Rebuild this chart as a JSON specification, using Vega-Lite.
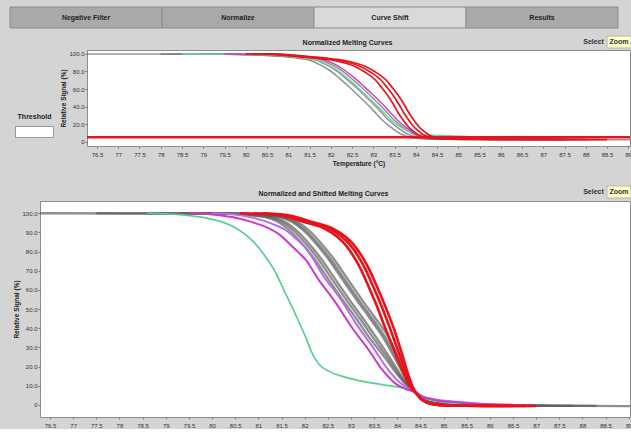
{
"$schema": "https://vega.github.io/schema/vega-lite/v6.json",
"background": "#d4d4d4",
"padding": {"left": 9, "top": 6, "right": 0, "bottom": 0},
"spacing": 4,
"datasets": {
"top": [
{"c":"tga","g":"gray","t":76.265,"v":100},{"c":"tga","g":"gray","t":79.5,"v":99.8},{"c":"tga","g":"gray","t":80.15,"v":99},{"c":"tga","g":"gray","t":80.8,"v":97.3},{"c":"tga","g":"gray","t":81.2,"v":95.3},{"c":"tga","g":"gray","t":81.49,"v":93.1},{"c":"tga","g":"gray","t":81.75,"v":87.5},{"c":"tga","g":"gray","t":81.96,"v":81.7},{"c":"tga","g":"gray","t":82.2,"v":72.5},{"c":"tga","g":"gray","t":82.43,"v":62.6},{"c":"tga","g":"gray","t":82.63,"v":53.5},{"c":"tga","g":"gray","t":82.83,"v":44},{"c":"tga","g":"gray","t":83.02,"v":34.5},{"c":"tga","g":"gray","t":83.21,"v":24.7},{"c":"tga","g":"gray","t":83.41,"v":16.5},{"c":"tga","g":"gray","t":83.61,"v":9.8},{"c":"tga","g":"gray","t":83.8,"v":5.8},{"c":"tga","g":"gray","t":84.0,"v":3.8},{"c":"tga","g":"gray","t":84.3,"v":3.0},{"c":"tga","g":"gray","t":85.0,"v":2.6},{"c":"tga","g":"gray","t":86.0,"v":2.4},{"c":"tga","g":"gray","t":88.0,"v":2.2},{"c":"tga","g":"gray","t":89.04,"v":2.2},
{"c":"tgb","g":"gray","t":78.0,"v":100},{"c":"tgb","g":"gray","t":79.6,"v":99.8},{"c":"tgb","g":"gray","t":80.3,"v":99},{"c":"tgb","g":"gray","t":80.95,"v":97.3},{"c":"tgb","g":"gray","t":81.35,"v":95.3},{"c":"tgb","g":"gray","t":81.64,"v":93.1},{"c":"tgb","g":"gray","t":81.9,"v":87.5},{"c":"tgb","g":"gray","t":82.11,"v":81.7},{"c":"tgb","g":"gray","t":82.35,"v":72.5},{"c":"tgb","g":"gray","t":82.58,"v":62.6},{"c":"tgb","g":"gray","t":82.78,"v":53.5},{"c":"tgb","g":"gray","t":82.98,"v":44},{"c":"tgb","g":"gray","t":83.17,"v":34.5},{"c":"tgb","g":"gray","t":83.36,"v":24.7},{"c":"tgb","g":"gray","t":83.56,"v":16.5},{"c":"tgb","g":"gray","t":83.76,"v":9.8},{"c":"tgb","g":"gray","t":83.95,"v":5.8},{"c":"tgb","g":"gray","t":84.15,"v":3.8},{"c":"tgb","g":"gray","t":84.45,"v":3.0},{"c":"tgb","g":"gray","t":85.1,"v":2.6},{"c":"tgb","g":"gray","t":86.5,"v":2.4},{"c":"tgb","g":"gray","t":88.5,"v":2.2},
{"c":"tgc","g":"gray","t":79.0,"v":100},{"c":"tgc","g":"gray","t":79.8,"v":99.8},{"c":"tgc","g":"gray","t":80.43,"v":99},{"c":"tgc","g":"gray","t":81.08,"v":97.3},{"c":"tgc","g":"gray","t":81.48,"v":95.3},{"c":"tgc","g":"gray","t":81.77,"v":93.1},{"c":"tgc","g":"gray","t":82.03,"v":87.5},{"c":"tgc","g":"gray","t":82.24,"v":81.7},{"c":"tgc","g":"gray","t":82.48,"v":72.5},{"c":"tgc","g":"gray","t":82.71,"v":62.6},{"c":"tgc","g":"gray","t":82.91,"v":53.5},{"c":"tgc","g":"gray","t":83.11,"v":44},{"c":"tgc","g":"gray","t":83.3,"v":34.5},{"c":"tgc","g":"gray","t":83.49,"v":24.7},{"c":"tgc","g":"gray","t":83.69,"v":16.5},{"c":"tgc","g":"gray","t":83.89,"v":9.8},{"c":"tgc","g":"gray","t":84.08,"v":5.8},{"c":"tgc","g":"gray","t":84.28,"v":3.8},{"c":"tgc","g":"gray","t":84.58,"v":3.0},{"c":"tgc","g":"gray","t":85.2,"v":2.6},{"c":"tgc","g":"gray","t":87.0,"v":2.4},
{"c":"tgr","g":"green","t":78.5,"v":100},{"c":"tgr","g":"green","t":79.7,"v":99.8},{"c":"tgr","g":"green","t":80.35,"v":99},{"c":"tgr","g":"green","t":81.0,"v":97.3},{"c":"tgr","g":"green","t":81.4,"v":95.3},{"c":"tgr","g":"green","t":81.68,"v":93.1},{"c":"tgr","g":"green","t":81.94,"v":87.5},{"c":"tgr","g":"green","t":82.15,"v":81.7},{"c":"tgr","g":"green","t":82.39,"v":72.5},{"c":"tgr","g":"green","t":82.62,"v":62.6},{"c":"tgr","g":"green","t":82.82,"v":53.5},{"c":"tgr","g":"green","t":83.02,"v":44},{"c":"tgr","g":"green","t":83.22,"v":34.5},{"c":"tgr","g":"green","t":83.42,"v":24.7},{"c":"tgr","g":"green","t":83.64,"v":16.5},{"c":"tgr","g":"green","t":83.88,"v":10.5},{"c":"tgr","g":"green","t":84.12,"v":8.0},{"c":"tgr","g":"green","t":84.4,"v":7.2},{"c":"tgr","g":"green","t":84.8,"v":6.8},{"c":"tgr","g":"green","t":85.2,"v":6.0},{"c":"tgr","g":"green","t":85.6,"v":4.5},{"c":"tgr","g":"green","t":86.0,"v":3.4},{"c":"tgr","g":"green","t":86.5,"v":2.8},{"c":"tgr","g":"green","t":87.5,"v":2.4},
{"c":"tma","g":"magenta","t":79.5,"v":100},{"c":"tma","g":"magenta","t":80.5,"v":99.3},{"c":"tma","g":"magenta","t":81.15,"v":97.5},{"c":"tma","g":"magenta","t":81.55,"v":95.6},{"c":"tma","g":"magenta","t":81.84,"v":93.4},{"c":"tma","g":"magenta","t":82.1,"v":88},{"c":"tma","g":"magenta","t":82.31,"v":82},{"c":"tma","g":"magenta","t":82.55,"v":73},{"c":"tma","g":"magenta","t":82.78,"v":63},{"c":"tma","g":"magenta","t":82.98,"v":54},{"c":"tma","g":"magenta","t":83.18,"v":44.5},{"c":"tma","g":"magenta","t":83.37,"v":35},{"c":"tma","g":"magenta","t":83.56,"v":25},{"c":"tma","g":"magenta","t":83.76,"v":16.5},{"c":"tma","g":"magenta","t":83.96,"v":9.8},{"c":"tma","g":"magenta","t":84.15,"v":5.8},{"c":"tma","g":"magenta","t":84.35,"v":4.0},{"c":"tma","g":"magenta","t":84.65,"v":3.2},{"c":"tma","g":"magenta","t":85.3,"v":2.7},{"c":"tma","g":"magenta","t":87.5,"v":2.4},
{"c":"tra","g":"red","t":80.0,"v":100},{"c":"tra","g":"red","t":80.55,"v":99.8},{"c":"tra","g":"red","t":81.24,"v":96.9},{"c":"tra","g":"red","t":81.65,"v":95.2},{"c":"tra","g":"red","t":82.015,"v":93.1},{"c":"tra","g":"red","t":82.3,"v":90},{"c":"tra","g":"red","t":82.58,"v":85.5},{"c":"tra","g":"red","t":82.8,"v":79.5},{"c":"tra","g":"red","t":83.05,"v":70.3},{"c":"tra","g":"red","t":83.2,"v":61.5},{"c":"tra","g":"red","t":83.36,"v":51.2},{"c":"tra","g":"red","t":83.48,"v":42},{"c":"tra","g":"red","t":83.59,"v":32.6},{"c":"tra","g":"red","t":83.71,"v":24},{"c":"tra","g":"red","t":83.83,"v":16.7},{"c":"tra","g":"red","t":83.95,"v":11.5},{"c":"tra","g":"red","t":84.06,"v":7.5},{"c":"tra","g":"red","t":84.18,"v":5.2},{"c":"tra","g":"red","t":84.3,"v":4.1},{"c":"tra","g":"red","t":84.55,"v":3.3},{"c":"tra","g":"red","t":84.77,"v":3.0},{"c":"tra","g":"red","t":85.8,"v":2.6},{"c":"tra","g":"red","t":87.5,"v":2.4},
{"c":"trb","g":"red","t":80.2,"v":100},{"c":"trb","g":"red","t":80.68,"v":99.8},{"c":"trb","g":"red","t":81.37,"v":96.9},{"c":"trb","g":"red","t":81.78,"v":95.2},{"c":"trb","g":"red","t":82.145,"v":93.1},{"c":"trb","g":"red","t":82.43,"v":90},{"c":"trb","g":"red","t":82.71,"v":85.5},{"c":"trb","g":"red","t":82.93,"v":79.5},{"c":"trb","g":"red","t":83.18,"v":70.3},{"c":"trb","g":"red","t":83.33,"v":61.5},{"c":"trb","g":"red","t":83.49,"v":51.2},{"c":"trb","g":"red","t":83.61,"v":42},{"c":"trb","g":"red","t":83.72,"v":32.6},{"c":"trb","g":"red","t":83.84,"v":24},{"c":"trb","g":"red","t":83.96,"v":16.7},{"c":"trb","g":"red","t":84.08,"v":11.5},{"c":"trb","g":"red","t":84.19,"v":7.5},{"c":"trb","g":"red","t":84.31,"v":5.2},{"c":"trb","g":"red","t":84.43,"v":4.1},{"c":"trb","g":"red","t":84.68,"v":3.3},{"c":"trb","g":"red","t":84.9,"v":3.0},{"c":"trb","g":"red","t":85.9,"v":2.6},{"c":"trb","g":"red","t":88.0,"v":2.4},
{"c":"trc","g":"red","t":80.4,"v":100},{"c":"trc","g":"red","t":80.8,"v":99.8},{"c":"trc","g":"red","t":81.49,"v":96.9},{"c":"trc","g":"red","t":81.9,"v":95.2},{"c":"trc","g":"red","t":82.265,"v":93.1},{"c":"trc","g":"red","t":82.55,"v":90},{"c":"trc","g":"red","t":82.83,"v":85.5},{"c":"trc","g":"red","t":83.05,"v":79.5},{"c":"trc","g":"red","t":83.3,"v":70.3},{"c":"trc","g":"red","t":83.45,"v":61.5},{"c":"trc","g":"red","t":83.61,"v":51.2},{"c":"trc","g":"red","t":83.73,"v":42},{"c":"trc","g":"red","t":83.84,"v":32.6},{"c":"trc","g":"red","t":83.96,"v":24},{"c":"trc","g":"red","t":84.08,"v":16.7},{"c":"trc","g":"red","t":84.2,"v":11.5},{"c":"trc","g":"red","t":84.31,"v":7.5},{"c":"trc","g":"red","t":84.43,"v":5.2},{"c":"trc","g":"red","t":84.55,"v":4.1},{"c":"trc","g":"red","t":84.8,"v":3.3},{"c":"trc","g":"red","t":85.02,"v":3.0},{"c":"trc","g":"red","t":86.0,"v":2.6},{"c":"trc","g":"red","t":88.5,"v":2.4}
],
"bot": [
{"c":"ga","g":"gray","t":76.284,"v":100},{"c":"ga","g":"gray","t":80.2,"v":99.8},{"c":"ga","g":"gray","t":80.7,"v":99.2},{"c":"ga","g":"gray","t":81.15,"v":98},{"c":"ga","g":"gray","t":81.43,"v":95.5},{"c":"ga","g":"gray","t":81.7,"v":90.5},{"c":"ga","g":"gray","t":81.95,"v":84},{"c":"ga","g":"gray","t":82.2,"v":76.5},{"c":"ga","g":"gray","t":82.5,"v":66},{"c":"ga","g":"gray","t":82.8,"v":55.5},{"c":"ga","g":"gray","t":83.1,"v":45.5},{"c":"ga","g":"gray","t":83.4,"v":35},{"c":"ga","g":"gray","t":83.675,"v":26.5},{"c":"ga","g":"gray","t":83.95,"v":17.5},{"c":"ga","g":"gray","t":84.175,"v":11},{"c":"ga","g":"gray","t":84.4,"v":6.4},{"c":"ga","g":"gray","t":84.55,"v":3},{"c":"ga","g":"gray","t":84.7,"v":1.5},{"c":"ga","g":"gray","t":85.0,"v":0.5},{"c":"ga","g":"gray","t":85.5,"v":0},{"c":"ga","g":"gray","t":86.5,"v":-0.3},{"c":"ga","g":"gray","t":88.0,"v":-0.5},{"c":"ga","g":"gray","t":89.027,"v":-0.6},
{"c":"ge","g":"gray","t":77.5,"v":100},{"c":"ge","g":"gray","t":80.3,"v":99.8},{"c":"ge","g":"gray","t":80.78,"v":99.2},{"c":"ge","g":"gray","t":81.23,"v":98},{"c":"ge","g":"gray","t":81.51,"v":95.5},{"c":"ge","g":"gray","t":81.78,"v":90.5},{"c":"ge","g":"gray","t":82.03,"v":84},{"c":"ge","g":"gray","t":82.28,"v":76.5},{"c":"ge","g":"gray","t":82.58,"v":66},{"c":"ge","g":"gray","t":82.88,"v":55.5},{"c":"ge","g":"gray","t":83.18,"v":45.5},{"c":"ge","g":"gray","t":83.48,"v":35},{"c":"ge","g":"gray","t":83.735,"v":26.5},{"c":"ge","g":"gray","t":83.99,"v":17.5},{"c":"ge","g":"gray","t":84.195,"v":11},{"c":"ge","g":"gray","t":84.4,"v":6.4},{"c":"ge","g":"gray","t":84.55,"v":3},{"c":"ge","g":"gray","t":84.7,"v":1.5},{"c":"ge","g":"gray","t":85.0,"v":0.5},{"c":"ge","g":"gray","t":85.5,"v":0},{"c":"ge","g":"gray","t":86.5,"v":-0.3},{"c":"ge","g":"gray","t":88.3,"v":-0.5},
{"c":"gb","g":"gray","t":78.6,"v":100},{"c":"gb","g":"gray","t":80.4,"v":99.8},{"c":"gb","g":"gray","t":80.85,"v":99.2},{"c":"gb","g":"gray","t":81.3,"v":98},{"c":"gb","g":"gray","t":81.58,"v":95.5},{"c":"gb","g":"gray","t":81.85,"v":90.5},{"c":"gb","g":"gray","t":82.1,"v":84},{"c":"gb","g":"gray","t":82.35,"v":76.5},{"c":"gb","g":"gray","t":82.65,"v":66},{"c":"gb","g":"gray","t":82.95,"v":55.5},{"c":"gb","g":"gray","t":83.25,"v":45.5},{"c":"gb","g":"gray","t":83.55,"v":35},{"c":"gb","g":"gray","t":83.79,"v":26.5},{"c":"gb","g":"gray","t":84.025,"v":17.5},{"c":"gb","g":"gray","t":84.21,"v":11},{"c":"gb","g":"gray","t":84.4,"v":6.4},{"c":"gb","g":"gray","t":84.55,"v":3},{"c":"gb","g":"gray","t":84.7,"v":1.5},{"c":"gb","g":"gray","t":85.0,"v":0.5},{"c":"gb","g":"gray","t":85.5,"v":0},{"c":"gb","g":"gray","t":86.5,"v":-0.3},{"c":"gb","g":"gray","t":87.8,"v":-0.5},
{"c":"gc","g":"gray","t":79.3,"v":100},{"c":"gc","g":"gray","t":80.5,"v":99.8},{"c":"gc","g":"gray","t":81.0,"v":99.2},{"c":"gc","g":"gray","t":81.45,"v":98},{"c":"gc","g":"gray","t":81.73,"v":95.5},{"c":"gc","g":"gray","t":82.0,"v":90.5},{"c":"gc","g":"gray","t":82.25,"v":84},{"c":"gc","g":"gray","t":82.5,"v":76.5},{"c":"gc","g":"gray","t":82.8,"v":66},{"c":"gc","g":"gray","t":83.1,"v":55.5},{"c":"gc","g":"gray","t":83.4,"v":45.5},{"c":"gc","g":"gray","t":83.7,"v":35},{"c":"gc","g":"gray","t":83.9,"v":26.5},{"c":"gc","g":"gray","t":84.1,"v":17.5},{"c":"gc","g":"gray","t":84.25,"v":11},{"c":"gc","g":"gray","t":84.4,"v":6.4},{"c":"gc","g":"gray","t":84.55,"v":3},{"c":"gc","g":"gray","t":84.7,"v":1.5},{"c":"gc","g":"gray","t":85.0,"v":0.5},{"c":"gc","g":"gray","t":85.5,"v":0},{"c":"gc","g":"gray","t":86.5,"v":-0.3},{"c":"gc","g":"gray","t":87.2,"v":-0.4},
{"c":"gf","g":"gray","t":79.8,"v":100},{"c":"gf","g":"gray","t":80.6,"v":99.8},{"c":"gf","g":"gray","t":81.05,"v":99.2},{"c":"gf","g":"gray","t":81.5,"v":98},{"c":"gf","g":"gray","t":81.78,"v":95.5},{"c":"gf","g":"gray","t":82.05,"v":90.5},{"c":"gf","g":"gray","t":82.3,"v":84},{"c":"gf","g":"gray","t":82.55,"v":76.5},{"c":"gf","g":"gray","t":82.85,"v":66},{"c":"gf","g":"gray","t":83.15,"v":55.5},{"c":"gf","g":"gray","t":83.45,"v":45.5},{"c":"gf","g":"gray","t":83.75,"v":35},{"c":"gf","g":"gray","t":83.94,"v":26.5},{"c":"gf","g":"gray","t":84.125,"v":17.5},{"c":"gf","g":"gray","t":84.26,"v":11},{"c":"gf","g":"gray","t":84.4,"v":6.4},{"c":"gf","g":"gray","t":84.55,"v":3},{"c":"gf","g":"gray","t":84.7,"v":1.5},{"c":"gf","g":"gray","t":85.0,"v":0.5},{"c":"gf","g":"gray","t":85.5,"v":0},{"c":"gf","g":"gray","t":86.3,"v":-0.3},
{"c":"gd","g":"gray","t":80.0,"v":100},{"c":"gd","g":"gray","t":80.7,"v":99.8},{"c":"gd","g":"gray","t":81.12,"v":99.2},{"c":"gd","g":"gray","t":81.57,"v":98},{"c":"gd","g":"gray","t":81.85,"v":95.5},{"c":"gd","g":"gray","t":82.12,"v":90.5},{"c":"gd","g":"gray","t":82.37,"v":84},{"c":"gd","g":"gray","t":82.62,"v":76.5},{"c":"gd","g":"gray","t":82.92,"v":66},{"c":"gd","g":"gray","t":83.22,"v":55.5},{"c":"gd","g":"gray","t":83.52,"v":45.5},{"c":"gd","g":"gray","t":83.82,"v":35},{"c":"gd","g":"gray","t":83.99,"v":26.5},{"c":"gd","g":"gray","t":84.16,"v":17.5},{"c":"gd","g":"gray","t":84.28,"v":11},{"c":"gd","g":"gray","t":84.4,"v":6.4},{"c":"gd","g":"gray","t":84.55,"v":3},{"c":"gd","g":"gray","t":84.7,"v":1.5},{"c":"gd","g":"gray","t":85.0,"v":0.5},{"c":"gd","g":"gray","t":85.5,"v":0},{"c":"gd","g":"gray","t":86.6,"v":-0.3},
{"c":"gr","g":"green","t":78.6,"v":100},{"c":"gr","g":"green","t":79.3,"v":99.3},{"c":"gr","g":"green","t":79.7,"v":98.2},{"c":"gr","g":"green","t":80.08,"v":96.4},{"c":"gr","g":"green","t":80.5,"v":92.5},{"c":"gr","g":"green","t":80.86,"v":86},{"c":"gr","g":"green","t":81.12,"v":78.5},{"c":"gr","g":"green","t":81.38,"v":68.7},{"c":"gr","g":"green","t":81.55,"v":60},{"c":"gr","g":"green","t":81.73,"v":51},{"c":"gr","g":"green","t":81.9,"v":42},{"c":"gr","g":"green","t":82.03,"v":35},{"c":"gr","g":"green","t":82.15,"v":27.5},{"c":"gr","g":"green","t":82.3,"v":21.5},{"c":"gr","g":"green","t":82.53,"v":17.5},{"c":"gr","g":"green","t":82.8,"v":15},{"c":"gr","g":"green","t":83.17,"v":12.7},{"c":"gr","g":"green","t":83.7,"v":10.5},{"c":"gr","g":"green","t":84.2,"v":8.3},{"c":"gr","g":"green","t":84.4,"v":6.4},{"c":"gr","g":"green","t":84.6,"v":3.5},{"c":"gr","g":"green","t":85.0,"v":1.5},{"c":"gr","g":"green","t":85.5,"v":0.5},{"c":"gr","g":"green","t":86.0,"v":0},{"c":"gr","g":"green","t":86.8,"v":-0.3},
{"c":"ma","g":"magenta","t":79.5,"v":100},{"c":"ma","g":"magenta","t":80.0,"v":99.4},{"c":"ma","g":"magenta","t":80.43,"v":98},{"c":"ma","g":"magenta","t":80.85,"v":95.5},{"c":"ma","g":"magenta","t":81.17,"v":92.8},{"c":"ma","g":"magenta","t":81.45,"v":89},{"c":"ma","g":"magenta","t":81.66,"v":84.4},{"c":"ma","g":"magenta","t":81.85,"v":80},{"c":"ma","g":"magenta","t":82.03,"v":75.5},{"c":"ma","g":"magenta","t":82.31,"v":65},{"c":"ma","g":"magenta","t":82.5,"v":59},{"c":"ma","g":"magenta","t":82.68,"v":53},{"c":"ma","g":"magenta","t":83.02,"v":40.4},{"c":"ma","g":"magenta","t":83.39,"v":28.4},{"c":"ma","g":"magenta","t":83.67,"v":18.5},{"c":"ma","g":"magenta","t":83.97,"v":11},{"c":"ma","g":"magenta","t":84.2,"v":8.2},{"c":"ma","g":"magenta","t":84.4,"v":6.4},{"c":"ma","g":"magenta","t":84.55,"v":4.2},{"c":"ma","g":"magenta","t":84.8,"v":2.6},{"c":"ma","g":"magenta","t":85.2,"v":1.5},{"c":"ma","g":"magenta","t":85.6,"v":0.8},{"c":"ma","g":"magenta","t":86.0,"v":0.3},{"c":"ma","g":"magenta","t":86.5,"v":0},{"c":"ma","g":"magenta","t":87.0,"v":-0.3},
{"c":"mb","g":"violet","t":80.0,"v":100},{"c":"mb","g":"violet","t":80.5,"v":99.3},{"c":"mb","g":"violet","t":80.9,"v":97.6},{"c":"mb","g":"violet","t":81.3,"v":94.5},{"c":"mb","g":"violet","t":81.6,"v":91},{"c":"mb","g":"violet","t":81.8,"v":87},{"c":"mb","g":"violet","t":82.0,"v":82.5},{"c":"mb","g":"violet","t":82.15,"v":77.5},{"c":"mb","g":"violet","t":82.41,"v":67},{"c":"mb","g":"violet","t":82.6,"v":61},{"c":"mb","g":"violet","t":82.78,"v":55},{"c":"mb","g":"violet","t":83.12,"v":42},{"c":"mb","g":"violet","t":83.49,"v":29.5},{"c":"mb","g":"violet","t":83.77,"v":19.5},{"c":"mb","g":"violet","t":84.05,"v":11.8},{"c":"mb","g":"violet","t":84.25,"v":8.5},{"c":"mb","g":"violet","t":84.4,"v":6.4},{"c":"mb","g":"violet","t":84.55,"v":4.5},{"c":"mb","g":"violet","t":84.8,"v":3},{"c":"mb","g":"violet","t":85.2,"v":1.8},{"c":"mb","g":"violet","t":85.6,"v":1.0},{"c":"mb","g":"violet","t":86.0,"v":0.4},{"c":"mb","g":"violet","t":86.5,"v":0.1},
{"c":"ra","g":"red","t":80.6,"v":100},{"c":"ra","g":"red","t":81.2,"v":99.6},{"c":"ra","g":"red","t":81.5,"v":98.8},{"c":"ra","g":"red","t":81.99,"v":95.4},{"c":"ra","g":"red","t":82.43,"v":92.0},{"c":"ra","g":"red","t":82.71,"v":87.6},{"c":"ra","g":"red","t":82.9,"v":83},{"c":"ra","g":"red","t":83.07,"v":77},{"c":"ra","g":"red","t":83.22,"v":70.5},{"c":"ra","g":"red","t":83.35,"v":63.5},{"c":"ra","g":"red","t":83.57,"v":51},{"c":"ra","g":"red","t":83.76,"v":38.9},{"c":"ra","g":"red","t":83.965,"v":26.8},{"c":"ra","g":"red","t":84.14,"v":16.3},{"c":"ra","g":"red","t":84.295,"v":9},{"c":"ra","g":"red","t":84.4,"v":6.4},{"c":"ra","g":"red","t":84.5,"v":3.5},{"c":"ra","g":"red","t":84.62,"v":1.5},{"c":"ra","g":"red","t":84.8,"v":0.3},{"c":"ra","g":"red","t":85.2,"v":-0.3},{"c":"ra","g":"red","t":86.0,"v":-0.5},{"c":"ra","g":"red","t":86.8,"v":-0.6},
{"c":"rb","g":"red","t":80.9,"v":100},{"c":"rb","g":"red","t":81.17,"v":99.7},{"c":"rb","g":"red","t":81.6,"v":98.8},{"c":"rb","g":"red","t":82.09,"v":95.4},{"c":"rb","g":"red","t":82.53,"v":92.0},{"c":"rb","g":"red","t":82.81,"v":87.6},{"c":"rb","g":"red","t":83.0,"v":83},{"c":"rb","g":"red","t":83.17,"v":77},{"c":"rb","g":"red","t":83.32,"v":70.5},{"c":"rb","g":"red","t":83.45,"v":63.5},{"c":"rb","g":"red","t":83.67,"v":51},{"c":"rb","g":"red","t":83.86,"v":38.9},{"c":"rb","g":"red","t":84.04,"v":26.8},{"c":"rb","g":"red","t":84.19,"v":16.3},{"c":"rb","g":"red","t":84.32,"v":9},{"c":"rb","g":"red","t":84.4,"v":6.4},{"c":"rb","g":"red","t":84.5,"v":3.5},{"c":"rb","g":"red","t":84.62,"v":1.5},{"c":"rb","g":"red","t":84.8,"v":0.3},{"c":"rb","g":"red","t":85.2,"v":-0.3},{"c":"rb","g":"red","t":86.0,"v":-0.5},{"c":"rb","g":"red","t":87.0,"v":-0.6},
{"c":"rc","g":"red","t":81.1,"v":100},{"c":"rc","g":"red","t":81.3,"v":99.7},{"c":"rc","g":"red","t":81.68,"v":98.8},{"c":"rc","g":"red","t":82.17,"v":95.4},{"c":"rc","g":"red","t":82.61,"v":92.0},{"c":"rc","g":"red","t":82.89,"v":87.6},{"c":"rc","g":"red","t":83.08,"v":83},{"c":"rc","g":"red","t":83.25,"v":77},{"c":"rc","g":"red","t":83.4,"v":70.5},{"c":"rc","g":"red","t":83.53,"v":63.5},{"c":"rc","g":"red","t":83.75,"v":51},{"c":"rc","g":"red","t":83.94,"v":38.9},{"c":"rc","g":"red","t":84.1,"v":26.8},{"c":"rc","g":"red","t":84.23,"v":16.3},{"c":"rc","g":"red","t":84.34,"v":9},{"c":"rc","g":"red","t":84.4,"v":6.4},{"c":"rc","g":"red","t":84.5,"v":3.5},{"c":"rc","g":"red","t":84.62,"v":1.5},{"c":"rc","g":"red","t":84.8,"v":0.3},{"c":"rc","g":"red","t":85.2,"v":-0.3},{"c":"rc","g":"red","t":86.0,"v":-0.5},{"c":"rc","g":"red","t":86.5,"v":-0.5}
]
},
"vconcat": [
{
"width": 608, "height": 21,
"view": {"stroke": null},
"data": {"values": [{"tab": "Negative Filter", "s": "n"}, {"tab": "Normalize", "s": "n"}, {"tab": "Curve Shift", "s": "y"}, {"tab": "Results", "s": "n"}]},
"encoding": {"x": {"field": "tab", "type": "nominal", "sort": null, "axis": null, "scale": {"paddingInner": 0, "paddingOuter": 0}}},
"layer": [
{"mark": {"type": "bar", "stroke": "#8c8c8c", "strokeWidth": 1}, "encoding": {"color": {"field": "s", "type": "nominal", "legend": null, "scale": {"domain": ["n", "y"], "range": ["#a9a9a9", "#d9d9d9"]}}}},
{"mark": {"type": "text", "fontSize": 7, "fontWeight": "bold", "color": "#222"}, "encoding": {"text": {"field": "tab"}}}
]
},
{
"spacing": 0,
"hconcat": [
{
"width": 49, "height": 96,
"view": {"stroke": null},
"layer": [
{
"data": {"values": [{"lab": "Threshold"}]},
"mark": {"type": "text", "fontSize": 7, "fontWeight": "bold", "color": "#222"},
"encoding": {"y": {"datum": 28, "type": "quantitative", "scale": {"domain": [-5, 104.5], "nice": false, "zero": false}, "axis": null}, "text": {"field": "lab"}}
},
{
"data": {"values": [{"box": 5}]},
"mark": {"type": "point", "shape": "M-1.73,-0.5H1.73V0.5H-1.73Z", "size": 484, "filled": true, "fill": "white", "stroke": "#999", "strokeWidth": 1, "opacity": 1},
"encoding": {"y": {"datum": 11, "type": "quantitative", "scale": {"domain": [-5, 104.5], "nice": false, "zero": false}, "axis": null}}
}
]
},
{
"width": 543, "height": 96,
"view": {"fill": "white", "stroke": "#8c8c8c"},
"resolve": {"axis": {"x": "independent", "y": "independent"}},
"layer": [
{
"data": {"name": "top"},
"encoding": {
"x": {"field": "t", "type": "quantitative", "scale": {"domain": [76.265, 89.04], "nice": false, "zero": false},
"axis": {"orient": "bottom", "values": [76.5,77,77.5,78,78.5,79,79.5,80,80.5,81,81.5,82,82.5,83,83.5,84,84.5,85,85.5,86,86.5,87,87.5,88,88.5,89], "labelExpr": "'' + datum.value", "title": ["Temperature (°C)", " "], "titleLineHeight": 12, "titlePadding": 3, "labelPadding": 3, "labelOverlap": false, "labelFlush": false}},
"y": {"field": "v", "type": "quantitative", "scale": {"domain": [-5, 104.5], "nice": false, "zero": false},
"axis": {"orient": "left", "values": [0, 20, 40, 60, 80, 100], "labelExpr": "datum.value == 0 ? '0' : format(datum.value, '.1f')", "title": "Relative Signal (%)", "minExtent": 16, "maxExtent": 16, "titlePadding": 5, "labelPadding": 1, "labelOverlap": false}},
"detail": {"field": "c", "type": "nominal"}
},
"layer": [
{"transform": [{"filter": "datum.g == 'gray'"}], "mark": {"type": "line", "interpolate": "monotone", "color": "#666666", "opacity": 0.7, "strokeWidth": 1.6}},
{"transform": [{"filter": "datum.g == 'green'"}], "mark": {"type": "line", "interpolate": "monotone", "color": "#6fd3aa", "strokeWidth": 1.4}},
{"transform": [{"filter": "datum.g == 'magenta'"}], "mark": {"type": "line", "interpolate": "monotone", "color": "#cc3fc0", "strokeWidth": 1.4}},
{"transform": [{"filter": "datum.g == 'red'"}], "mark": {"type": "line", "interpolate": "monotone", "color": "#e8121a", "strokeWidth": 1.7}}
]
},
{
"data": {"values": [{"thr": 5}]},
"mark": {"type": "rule", "color": "#e3141c", "strokeWidth": 2.5},
"encoding": {"y": {"field": "thr", "type": "quantitative", "axis": null}}
},
{
"data": {"values": [{"b": "Zoom"}]},
"mark": {"type": "point", "shape": "M-1,-0.5H1V0.5H-1Z", "size": 576, "filled": true, "fill": "#ffffc8", "stroke": "#b8b8a0", "strokeWidth": 1, "opacity": 1},
"encoding": {"x": {"datum": 88.783, "type": "quantitative", "axis": null}, "y": {"datum": 113.6, "type": "quantitative", "axis": null}}
},
{
"data": {"values": [{"b": "Select", "t": 88.183}, {"b": "Zoom", "t": 88.783}]},
"mark": {"type": "text", "fontSize": 7, "fontWeight": "bold", "color": "#333"},
"encoding": {"x": {"field": "t", "type": "quantitative", "axis": null}, "y": {"datum": 113.6, "type": "quantitative", "axis": null}, "text": {"field": "b"}}
},
{
"data": {"values": [{"t": 82}]},
"mark": {"type": "text"},
"encoding": {
"x": {"field": "t", "type": "quantitative", "axis": {"orient": "top", "labels": false, "ticks": false, "domain": false, "minExtent": 0, "maxExtent": 0, "title": "Normalized Melting Curves", "titlePadding": 5, "titleFontSize": 7, "titleFontWeight": "bold", "titleColor": "#222", "titleX": 260}},
"text": {"value": ""}
}
}
]
}
]
},
{
"spacing": 1,
"hconcat": [
{
"width": 1, "height": 216,
"view": {"stroke": null},
"data": {"values": [{"e": ""}]},
"mark": {"type": "text"},
"encoding": {"text": {"field": "e"}}
},
{
"width": 590, "height": 216,
"view": {"fill": "white", "stroke": "#8c8c8c"},
"resolve": {"axis": {"x": "independent", "y": "independent"}},
"layer": [
{
"data": {"name": "bot"},
"encoding": {
"x": {"field": "t", "type": "quantitative", "scale": {"domain": [76.284, 89.027], "nice": false, "zero": false},
"axis": {"orient": "bottom", "values": [76.5,77,77.5,78,78.5,79,79.5,80,80.5,81,81.5,82,82.5,83,83.5,84,84.5,85,85.5,86,86.5,87,87.5,88,88.5,89], "labelExpr": "'' + datum.value", "title": null, "labelPadding": 3, "labelOverlap": false, "labelFlush": false}},
"y": {"field": "v", "type": "quantitative", "scale": {"domain": [-6.3, 106.4], "nice": false, "zero": false},
"axis": {"orient": "left", "values": [0, 10, 20, 30, 40, 50, 60, 70, 80, 90, 100], "labelExpr": "datum.value == 0 ? '0' : format(datum.value, '.1f')", "title": "Relative Signal (%)", "minExtent": 16, "maxExtent": 16, "titlePadding": 5, "labelPadding": 1, "labelOverlap": false}},
"detail": {"field": "c", "type": "nominal"}
},
"layer": [
{"transform": [{"filter": "datum.g == 'gray'"}], "mark": {"type": "line", "interpolate": "monotone", "color": "#5e5e5e", "opacity": 0.7, "strokeWidth": 2.3}},
{"transform": [{"filter": "datum.g == 'green'"}], "mark": {"type": "line", "interpolate": "monotone", "color": "#5ccf94", "strokeWidth": 1.7}},
{"transform": [{"filter": "datum.g == 'violet'"}], "mark": {"type": "line", "interpolate": "monotone", "color": "#b86ee0", "strokeWidth": 2}},
{"transform": [{"filter": "datum.g == 'magenta'"}], "mark": {"type": "line", "interpolate": "monotone", "color": "#cc3acc", "strokeWidth": 2}},
{"transform": [{"filter": "datum.g == 'red'"}], "mark": {"type": "line", "interpolate": "monotone", "color": "#e8121a", "strokeWidth": 2.6}}
]
},
{
"data": {"values": [{"b": "Zoom"}]},
"mark": {"type": "point", "shape": "M-1,-0.5H1V0.5H-1Z", "size": 576, "filled": true, "fill": "#ffffc8", "stroke": "#b8b8a0", "strokeWidth": 1, "opacity": 1},
"encoding": {"x": {"datum": 88.79, "type": "quantitative", "axis": null}, "y": {"datum": 111.1, "type": "quantitative", "axis": null}}
},
{
"data": {"values": [{"b": "Select", "t": 88.239}, {"b": "Zoom", "t": 88.79}]},
"mark": {"type": "text", "fontSize": 7, "fontWeight": "bold", "color": "#333"},
"encoding": {"x": {"field": "t", "type": "quantitative", "axis": null}, "y": {"datum": 111.1, "type": "quantitative", "axis": null}, "text": {"field": "b"}}
},
{
"data": {"values": [{"t": 82}]},
"mark": {"type": "text"},
"encoding": {
"x": {"field": "t", "type": "quantitative", "axis": {"orient": "top", "labels": false, "ticks": false, "domain": false, "minExtent": 0, "maxExtent": 0, "title": "Normalized and Shifted Melting Curves", "titlePadding": 5, "titleFontSize": 7, "titleFontWeight": "bold", "titleColor": "#222", "titleX": 283}},
"text": {"value": ""}
}
}
]
}
]
}
],
"config": {
"font": "Liberation Sans",
"axis": {"labelFontSize": 6, "labelColor": "#333", "titleFontSize": 6.5, "titleFontWeight": "bold", "titleColor": "#222", "grid": false, "domain": false, "tickColor": "#777", "tickSize": 2, "labelPadding": 2},
"view": {"stroke": null}
}
}
